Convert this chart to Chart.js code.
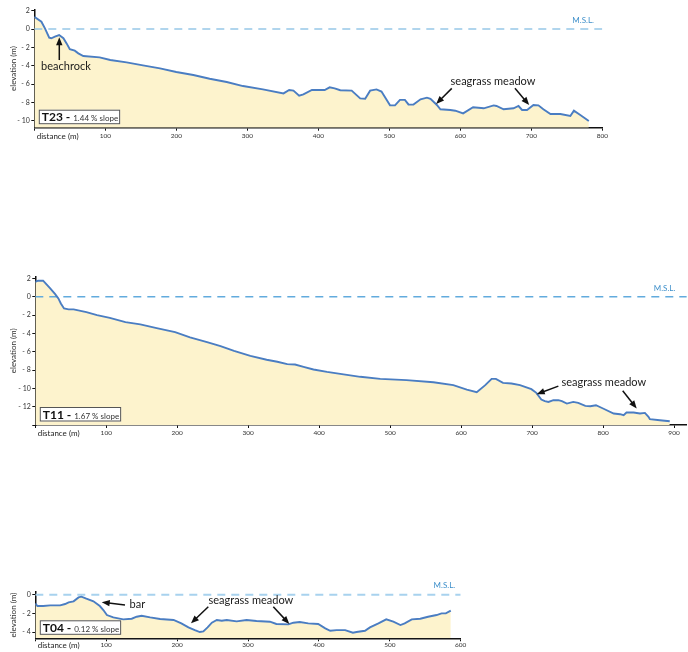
<!DOCTYPE html>
<html>
<head>
<meta charset="utf-8">
<script src="https://cdn.jsdelivr.net/npm/chart.js@4.4.1/dist/chart.umd.min.js"></script>
<style>
  html, body { margin: 0; padding: 0; background: #fff; }
  body { width: 688px; height: 652px; position: relative; overflow: hidden; }
  canvas { position: absolute; left: 0; }
</style>
</head>
<body>
<canvas id="t23" width="688" height="150" style="top:0px"></canvas>
<canvas id="t11" width="688" height="175" style="top:265px"></canvas>
<canvas id="t04" width="688" height="87" style="top:565px"></canvas>
<script>
// Cross-shore profiles: distance from shore (m) and elevation relative to M.S.L. (m)
const t23Distance = [0, 10, 15, 21, 24, 29, 35, 41, 45.5, 50, 57, 62, 69, 92, 107, 130, 153, 177, 200, 224, 247, 271, 294, 322, 351, 359, 365, 373, 379, 391, 400, 409, 416, 423, 431, 447, 459, 466, 473, 482, 489, 501, 508, 515, 522, 527, 534, 544, 553, 558, 567, 572, 586, 593, 604, 618, 633, 647, 651, 661, 675, 682, 687, 694, 703, 710, 717, 727, 741, 755, 760, 769, 781];
const t23Elevation = [1.34, 0.8, 0.07, -0.94, -1.0, -0.83, -0.65, -1.0, -1.56, -2.2, -2.35, -2.64, -2.93, -3.08, -3.37, -3.62, -3.95, -4.28, -4.67, -5.0, -5.4, -5.76, -6.2, -6.56, -7.0, -6.63, -6.7, -7.25, -7.1, -6.63, -6.63, -6.63, -6.34, -6.45, -6.65, -6.7, -7.54, -7.57, -6.7, -6.56, -6.8, -8.3, -8.3, -7.7, -7.7, -8.2, -8.22, -7.64, -7.46, -7.6, -8.26, -8.73, -8.8, -8.88, -9.17, -8.5, -8.62, -8.3, -8.37, -8.73, -8.62, -8.37, -8.8, -8.8, -8.26, -8.3, -8.73, -9.24, -9.24, -9.46, -8.88, -9.35, -10.0];

const t11Distance = [0, 4, 11, 21, 28, 32.5, 36, 40.5, 47, 54, 72, 87, 105, 127, 148, 171, 197, 218, 242, 261, 280, 303, 326, 341, 355, 366, 378, 392, 411, 432, 458, 486, 523, 561, 589, 608, 622, 634, 643, 649, 659, 671, 683, 699, 706, 713, 718, 723, 730, 737, 742, 749, 758, 765, 775, 782, 790, 800, 815, 824, 829, 833, 843, 852, 859, 864, 866, 880, 894];
const t11Elevation = [1.64, 1.75, 1.75, 0.91, 0.29, -0.18, -0.73, -1.28, -1.38, -1.38, -1.68, -2.0, -2.3, -2.77, -3.02, -3.42, -3.86, -4.44, -4.95, -5.39, -5.9, -6.45, -6.88, -7.1, -7.36, -7.4, -7.65, -7.94, -8.2, -8.45, -8.74, -8.96, -9.1, -9.33, -9.65, -10.13, -10.42, -9.65, -8.96, -8.96, -9.4, -9.47, -9.65, -10.09, -10.49, -11.22, -11.4, -11.48, -11.29, -11.29, -11.4, -11.66, -11.48, -11.58, -11.91, -11.95, -11.84, -12.2, -12.75, -12.82, -12.93, -12.64, -12.64, -12.75, -12.68, -13.1, -13.37, -13.48, -13.59];

const t04Distance = [0, 3, 11, 21, 35, 42, 47, 54, 61, 65, 72, 82, 91, 96, 101, 110, 124, 136, 143, 150, 162, 176, 195, 206, 216, 225, 232, 237, 243, 249, 256, 263, 270, 284, 298, 312, 331, 340, 357, 364, 373, 385, 399, 409, 416, 425, 437, 448, 453, 465, 472, 484, 495, 505, 515, 521, 531, 543, 554, 566, 573, 579, 586];
const t04Elevation = [-0.93, -1.21, -1.21, -1.14, -1.14, -1.0, -0.82, -0.71, -0.29, -0.21, -0.43, -0.71, -1.21, -1.64, -2.18, -2.43, -2.64, -2.57, -2.36, -2.25, -2.43, -2.6, -2.71, -3.07, -3.5, -3.79, -4.0, -3.93, -3.5, -3.0, -2.71, -2.79, -2.71, -2.86, -2.71, -2.82, -2.89, -3.14, -3.18, -3.0, -2.93, -3.07, -3.14, -3.61, -3.86, -3.79, -3.79, -4.07, -4.0, -3.86, -3.5, -3.07, -2.64, -2.89, -3.25, -3.07, -2.64, -2.57, -2.36, -2.18, -2.0, -2.0, -1.71];

// Profile names and overall slopes
const profileNames = ['T23', 'T11', 'T04'];
const profileSlopes = ['1.44 % slope', '1.67 % slope', '0.12 % slope'];

const FONT = 'Lato, "Open Sans", sans-serif';
const PROFILE_LINE = '#4a7dc2';
const PROFILE_FILL = '#fdf3cd';

function toPoints(xs, ys) {
  return xs.map((x, i) => ({ x: x, y: ys[i] }));
}

function tickText(v) {
  return v < 0 ? '- ' + Math.abs(v) : String(v);
}

// Labels, arrows, M.S.L. tag and title box drawn on top of each chart
const notesPlugin = {
  id: 'profileNotes',
  afterDraw(chart) {
    const n = chart.options.plugins.profileNotes;
    const ctx = chart.ctx;
    const xs = chart.scales.x, ys = chart.scales.y;
    const ca = chart.chartArea;
    const px = d => xs.getPixelForValue(d);
    const py = e => ys.getPixelForValue(e);
    ctx.save();

    // axis caption at the origin
    ctx.fillStyle = '#222';
    ctx.font = '8px ' + FONT;
    ctx.textAlign = 'left';
    ctx.textBaseline = 'middle';
    ctx.fillText('distance (m)', ca.left + 2.4, ca.bottom + n.captionDy);

    // M.S.L. tag
    ctx.fillStyle = '#3d8fca';
    ctx.font = '8px ' + FONT;
    ctx.textAlign = 'center';
    ctx.fillText('M.S.L.', px(n.msl[0]), py(n.msl[1]));

    // text labels
    ctx.fillStyle = '#1a1a1a';
    ctx.font = '11px ' + FONT;
    n.texts.forEach(t => {
      ctx.fillText(t.text, px(t.at[0]), py(t.at[1]));
    });

    // arrows
    n.arrows.forEach(a => {
      const x0 = px(a[0][0]), y0 = py(a[0][1]);
      const x1 = px(a[1][0]), y1 = py(a[1][1]);
      const ang = Math.atan2(y1 - y0, x1 - x0);
      const hl = 8, hw = 3.2;
      const bx = x1 - Math.cos(ang) * hl, by = y1 - Math.sin(ang) * hl;
      ctx.strokeStyle = '#111';
      ctx.lineWidth = 1.5;
      ctx.beginPath();
      ctx.moveTo(x0, y0);
      ctx.lineTo(bx + Math.cos(ang) * 1, by + Math.sin(ang) * 1);
      ctx.stroke();
      ctx.fillStyle = '#111';
      ctx.beginPath();
      ctx.moveTo(x1, y1);
      ctx.lineTo(bx + Math.sin(ang) * hw, by - Math.cos(ang) * hw);
      ctx.lineTo(bx - Math.sin(ang) * hw, by + Math.cos(ang) * hw);
      ctx.closePath();
      ctx.fill();
    });

    // title box: profile name and slope
    const boldFont = 'bold 12px ' + FONT;
    const thinFont = '8px ' + FONT;
    ctx.font = boldFont;
    const w1 = ctx.measureText(n.name + ' - ').width;
    ctx.font = thinFont;
    const w2 = ctx.measureText(n.slope).width;
    const bw = w1 + w2 + 5, bh = 14.5;
    const bxl = ca.left + 4.5, byt = ca.bottom - 3.5 - bh;
    ctx.fillStyle = '#fff';
    ctx.fillRect(bxl, byt, bw, bh);
    ctx.strokeStyle = '#555';
    ctx.lineWidth = 1;
    ctx.strokeRect(bxl + 0.5, byt + 0.5, bw - 1, bh - 1);
    ctx.textAlign = 'left';
    ctx.textBaseline = 'alphabetic';
    ctx.fillStyle = '#111';
    ctx.font = boldFont;
    ctx.fillText(n.name + ' - ', bxl + 3, byt + bh - 3);
    ctx.fillStyle = '#333';
    ctx.font = thinFont;
    ctx.fillText(n.slope, bxl + 3 + w1, byt + bh - 3);
    ctx.restore();
  }
};

function drawProfile(id, o) {
  const canvas = document.getElementById(id);
  const H = canvas.height;
  new Chart(canvas, {
    type: 'line',
    data: {
      datasets: [
        {
          data: toPoints(o.distance, o.elevation),
          borderColor: PROFILE_LINE,
          borderWidth: 1.9,
          backgroundColor: PROFILE_FILL,
          fill: 'start',
          pointRadius: 0,
          tension: 0,
          order: 1
        },
        {
          data: [{ x: 0, y: 0 }, { x: o.xMax, y: 0 }],
          borderColor: o.mslColor,
          borderWidth: o.mslWidth,
          borderDash: [8, 6],
          fill: false,
          pointRadius: 0,
          order: 2
        }
      ]
    },
    options: {
      responsive: false,
      animation: false,
      events: [],
      layout: { padding: { left: 0, top: o.plot.top, right: 688 - o.plot.right, bottom: 0 } },
      plugins: {
        legend: { display: false },
        tooltip: { enabled: false },
        filler: { drawTime: 'beforeDatasetsDraw' },
        profileNotes: o.notes
      },
      scales: {
        x: {
          type: 'linear',
          min: 0,
          max: o.xMax,
          afterFit: s => { s.height = H - o.plot.bottom; },
          border: { display: true, color: '#111', width: 1.5 },
          grid: { drawOnChartArea: false, drawTicks: true, tickLength: 3, color: '#111', lineWidth: 1 },
          ticks: {
            stepSize: 100,
            includeBounds: false,
            autoSkip: false,
            maxRotation: 0,
            padding: o.xTickPad,
            color: '#333',
            font: { family: FONT, size: 6.5 },
            callback: v => (v === 0 ? '' : String(v))
          }
        },
        y: {
          type: 'linear',
          min: o.yMin,
          max: o.yMax,
          afterFit: s => { s.width = o.plot.left; },
          border: { display: true, color: '#111', width: 1.5 },
          grid: { drawOnChartArea: false, drawTicks: true, tickLength: 3, color: '#111', lineWidth: 1 },
          title: {
            display: true,
            text: 'elevation (m)',
            color: '#333',
            font: { family: FONT, size: 8 },
            padding: { top: 8.5, bottom: 0 }
          },
          ticks: {
            stepSize: 2,
            includeBounds: false,
            padding: 1.5,
            color: '#333',
            font: { family: FONT, size: 7 },
            callback: v => (o.hideY.includes(v) ? '' : tickText(v))
          }
        }
      }
    },
    plugins: [notesPlugin]
  });
}

drawProfile('t23', {
  distance: t23Distance, elevation: t23Elevation,
  xMax: 800, yMin: -10.73, yMax: 2.15, hideY: [],
  plot: { left: 34.3, right: 602.3, top: 9.3, bottom: 127.7 },
  mslColor: '#97c7e8', mslWidth: 1.5, xTickPad: 1.4,
  notes: {
    name: profileNames[0], slope: profileSlopes[0], captionDy: 8.3,
    msl: [773, 0.9],
    texts: [
      { text: 'beachrock', at: [44.5, -4.02] },
      { text: 'seagrass meadow', at: [646, -5.65] }
    ],
    arrows: [
      [[35.2, -3.37], [35.2, -0.9]],
      [[588, -6.45], [566, -8.15]],
      [[677, -6.45], [697, -8.26]]
    ]
  }
});

drawProfile('t11', {
  distance: t11Distance, elevation: t11Elevation,
  xMax: 918, yMin: -14, yMax: 2.2, hideY: [-14],
  plot: { left: 35.3, right: 686.8, top: 11.6, bottom: 160 },
  mslColor: '#62abdd', mslWidth: 1.4, xTickPad: 1.4,
  notes: {
    name: profileNames[1], slope: profileSlopes[1], captionDy: 8.3,
    msl: [886.6, 0.92],
    texts: [
      { text: 'seagrass meadow', at: [801, -9.4] }
    ],
    arrows: [
      [[737, -9.76], [706.5, -10.63]],
      [[827.7, -10.27], [847.4, -12.2]]
    ]
  }
});

drawProfile('t04', {
  distance: t04Distance, elevation: t04Elevation,
  xMax: 600, yMin: -4.67, yMax: 0.3, hideY: [],
  plot: { left: 35.3, right: 460.7, top: 26.9, bottom: 73.3 },
  mslColor: '#a8d2ee', mslWidth: 2, xTickPad: 0,
  notes: {
    name: profileNames[2], slope: profileSlopes[2], captionDy: 7,
    msl: [577, 0.96],
    texts: [
      { text: 'bar', at: [144, -1.03] },
      { text: 'seagrass meadow', at: [304, -0.64] }
    ],
    arrows: [
      [[126.5, -1.1], [93.7, -0.81]],
      [[244, -1.29], [219.6, -3.07]],
      [[335.7, -1.29], [358.3, -3.14]]
    ]
  }
});
</script>
</body>
</html>
